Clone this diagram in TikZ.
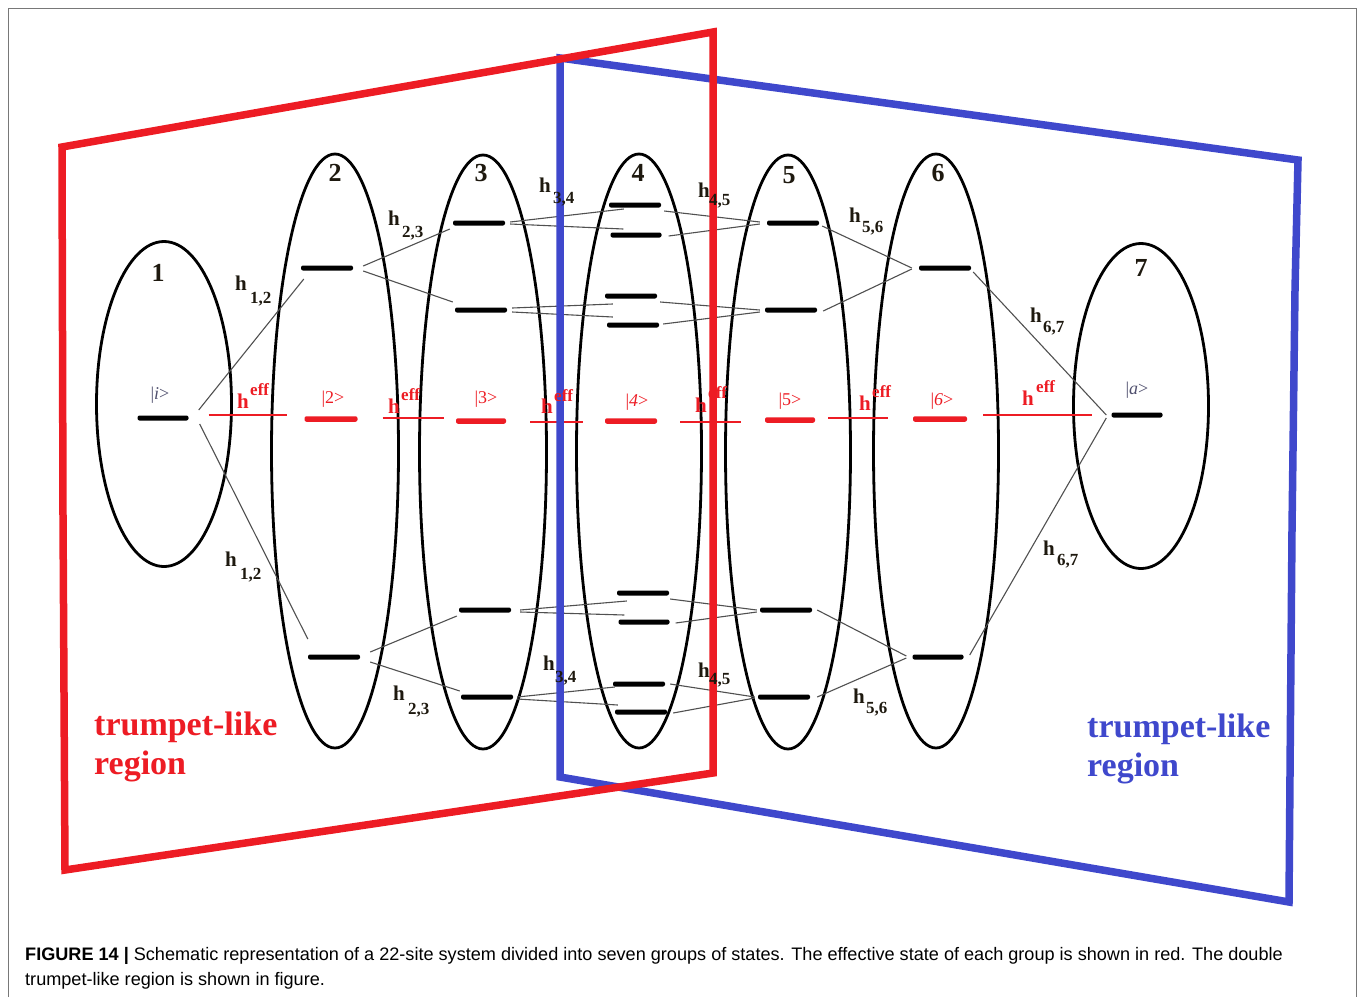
\documentclass[tikz,border=0pt]{standalone}
\usepackage{fontspec}
\setmainfont{Liberation Serif}
\newfontfamily\capfont{Liberation Sans}
\usetikzlibrary{shapes.geometric}
\definecolor{pred}{RGB}{237,28,36}
\definecolor{pblue}{RGB}{63,72,204}
\definecolor{conn}{RGB}{80,80,80}
\definecolor{lab}{RGB}{30,25,15}
\definecolor{ketc}{RGB}{80,80,110}
\definecolor{framec}{RGB}{120,120,120}
\newcommand\hlab[6]{\node[hb,text=lab] (#1) at (#2,#3) {h}; \node[sb,text=lab] (#1s) at (#4,#5) {#6};}
\newcommand\efflab[5]{\node[hb,text=pred] (#1) at (#2,#3) {h}; \node[effb,text=pred] (#1s) at (#4,#5) {eff};}
\begin{document}
\begin{tikzpicture}[x=1pt,y=-1pt,
  grp/.style={draw=black,line width=2.8pt,ellipse,inner sep=0},
  lev/.style={fill=black,minimum height=5pt,inner sep=0,rounded corners=2pt},
  rlev/.style={fill=pred,minimum height=5.5pt,inner sep=0,rounded corners=2pt},
  cn/.style={draw=conn,line width=1.1pt},
  effline/.style={draw=pred,line width=1.2pt},
  num/.style={font=\fontsize{26}{26}\selectfont\bfseries,text=lab,inner sep=0},
  hb/.style={font=\fontsize{21}{21}\selectfont\bfseries,inner sep=0,anchor=base west},
  sb/.style={font=\fontsize{17}{17}\selectfont\bfseries,inner sep=0,anchor=base west},
  effb/.style={font=\fontsize{17}{17}\selectfont\bfseries,inner sep=0,anchor=base west},
  ket/.style={font=\fontsize{18}{18}\selectfont,inner sep=0},
  trump/.style={font=\fontsize{34}{34}\selectfont\bfseries,inner sep=0,anchor=base west},
  frameline/.style={line width=7.5pt},
  captext/.style={font=\capfont\fontsize{18.1}{18}\selectfont,inner sep=0,anchor=base west}]
\useasboundingbox (0,0) rectangle (1358,997);
\draw[framec,line width=0.8pt] (8,997) -- (8,8) -- (1356,8) -- (1356,997);

% group ellipses
\node[grp,minimum width=135pt,minimum height=325pt] (g1) at (164,404) {};
\node[grp,minimum width=127pt,minimum height=594pt] (g2) at (335,451) {};
\node[grp,minimum width=127pt,minimum height=594pt] (g3) at (483,452) {};
\node[grp,minimum width=125pt,minimum height=594pt] (g4) at (639,451) {};
\node[grp,minimum width=125pt,minimum height=594pt] (g5) at (788,452) {};
\node[grp,minimum width=125pt,minimum height=594pt] (g6) at (936,451) {};
\node[grp,minimum width=135pt,minimum height=325pt] (g7) at (1141,406) {};

% group numbers
\node[num] (n1) at (158,273) {1};
\node[num] (n2) at (335,173) {2};
\node[num] (n3) at (481,173) {3};
\node[num] (n4) at (638,173) {4};
\node[num] (n5) at (789,175) {5};
\node[num] (n6) at (938,173) {6};
\node[num] (n7) at (1141,268) {7};

% levels
\node[lev,minimum width=51pt] (i) at (163,418) {};
\node[lev,minimum width=52pt] (L2t) at (327,268) {};
\node[lev,minimum width=52pt] (L2b) at (334,657) {};
\node[lev,minimum width=52pt] (L3a) at (479,223) {};
\node[lev,minimum width=52pt] (L3b) at (481,310) {};
\node[lev,minimum width=52pt] (L3c) at (485,610) {};
\node[lev,minimum width=52pt] (L3d) at (487,697) {};
\node[lev,minimum width=52pt] (L4a) at (635,205) {};
\node[lev,minimum width=51pt] (L4b) at (636,235) {};
\node[lev,minimum width=52pt] (L4c) at (631,296) {};
\node[lev,minimum width=52pt] (L4d) at (633,325) {};
\node[lev,minimum width=52pt] (L4e) at (643,593) {};
\node[lev,minimum width=51pt] (L4f) at (644,622) {};
\node[lev,minimum width=52pt] (L4g) at (639,684) {};
\node[lev,minimum width=52pt] (L4h) at (641,712) {};
\node[lev,minimum width=52pt] (L5a) at (793,223) {};
\node[lev,minimum width=52pt] (L5b) at (791,310) {};
\node[lev,minimum width=52pt] (L5c) at (786,610) {};
\node[lev,minimum width=52pt] (L5d) at (784,697) {};
\node[lev,minimum width=52pt] (L6t) at (945,268) {};
\node[lev,minimum width=51pt] (L6b) at (938,657) {};
\node[lev,minimum width=51pt] (a) at (1137,415) {};

% effective (red) levels
\node[rlev,minimum width=53pt] (R2) at (331,419) {};
\node[rlev,minimum width=50pt] (R3) at (481,421) {};
\node[rlev,minimum width=52pt] (R4) at (631,421) {};
\node[rlev,minimum width=50pt] (R5) at (790,420) {};
\node[rlev,minimum width=54pt] (R6) at (940,419) {};

% couplings
\draw[cn] ([shift={(10,-8)}]i.east) -- ([shift={(3,11)}]L2t.west);
\draw[cn] ([shift={(11,6)}]i.east) -- ([shift={(0,-18)}]L2b.west);
\draw[cn] ([shift={(10,-2)}]L2t.east) -- ([shift={(-3,6)}]L3a.west);
\draw[cn] ([shift={(10,3)}]L2t.east) -- ([shift={(-2,-8)}]L3b.west);
\draw[cn] ([shift={(10,-5)}]L2b.east) -- ([shift={(-2,6)}]L3c.west);
\draw[cn] ([shift={(10,5)}]L2b.east) -- ([shift={(-1,-6)}]L3d.west);
\draw[cn] ([shift={(5,-1)}]L3a.east) -- ([shift={(15,4)}]L4a.west);
\draw[cn] ([shift={(5,1)}]L3a.east) -- ([shift={(13,-6)}]L4b.west);
\draw[cn] ([shift={(5,-2)}]L3b.east) -- ([shift={(8,8)}]L4c.west);
\draw[cn] ([shift={(5,2)}]L3b.east) -- ([shift={(6,-8)}]L4d.west);
\draw[cn] ([shift={(3,6)}]L4a.east) -- ([shift={(-7,-1)}]L5a.west);
\draw[cn] ([shift={(7,1)}]L4b.east) -- ([shift={(-7,1)}]L5a.west);
\draw[cn] ([shift={(3,6)}]L4c.east) -- ([shift={(-5,0)}]L5b.west);
\draw[cn] ([shift={(4,-1)}]L4d.east) -- ([shift={(-5,2)}]L5b.west);
\draw[cn] ([shift={(3,3)}]L5a.east) -- ([shift={(-7,0)}]L6t.west);
\draw[cn] ([shift={(6,1)}]L5b.east) -- ([shift={(-7,1)}]L6t.west);
\draw[cn] ([shift={(2,4)}]L6t.east) -- ([shift={(-5,0)}]a.west);
\draw[cn] ([shift={(6,-2)}]L6b.east) -- ([shift={(-5,3)}]a.west);
\draw[cn] ([shift={(9,0)}]L3c.east) -- ([shift={(10,8)}]L4e.west);
\draw[cn] ([shift={(9,2)}]L3c.east) -- ([shift={(6,-7)}]L4f.west);
\draw[cn] ([shift={(4,0)}]L3d.east) -- ([shift={(2,3)}]L4g.west);
\draw[cn] ([shift={(4,2)}]L3d.east) -- ([shift={(3,-7)}]L4h.west);
\draw[cn] ([shift={(1,6)}]L4e.east) -- ([shift={(-3,0)}]L5c.west);
\draw[cn] ([shift={(6,1)}]L4f.east) -- ([shift={(-3,2)}]L5c.west);
\draw[cn] ([shift={(5,0)}]L4g.east) -- ([shift={(-3,0)}]L5d.west);
\draw[cn] ([shift={(6,1)}]L4h.east) -- ([shift={(-3,1)}]L5d.west);
\draw[cn] ([shift={(5,0)}]L5c.east) -- ([shift={(-6,-1)}]L6b.west);
\draw[cn] ([shift={(7,0)}]L5d.east) -- ([shift={(-6,1)}]L6b.west);

% effective couplings
\draw[effline] ([shift={(20,-3)}]i.east) -- ([shift={(-17,-4)}]R2.west);
\draw[effline] ([shift={(25,-1)}]R2.east) -- ([shift={(-12,-3)}]R3.west);
\draw[effline] ([shift={(24,1)}]R3.east) -- ([shift={(-22,1)}]R4.west);
\draw[effline] ([shift={(23,1)}]R4.east) -- ([shift={(-24,2)}]R5.west);
\draw[effline] ([shift={(13,-2)}]R5.east) -- ([shift={(-25,-1)}]R6.west);
\draw[effline] ([shift={(16,-4)}]R6.east) -- ([shift={(-19,0)}]a.west);

% trumpet-like frames
\draw[pblue,frameline] (560,58) -- (560,777) -- (1289,902) -- (1290,775) -- (1292,530) -- (1295,290) -- (1298,160) -- cycle;
\draw[pred,frameline] (62,147) -- (713,32) -- (713,773) -- (65,870) -- (63,515) -- cycle;

% kets
\node[ket,text=ketc] (ki) at (160,395) {|\textit{i}>};
\node[ket,text=pred] (k2) at (333,399) {|2>};
\node[ket,text=pred] (k3) at (486,399) {|3>};
\node[ket,text=pred] (k4) at (637,402) {|\textit{4}>};
\node[ket,text=pred] (k5) at (790,401) {|5>};
\node[ket,text=pred] (k6) at (942,401) {|\textit{6}>};
\node[ket,text=ketc] (ka) at (1137,390) {|\textit{a}>};

% coupling labels
\hlab{h12a}{235}{290}{250}{303}{1,2}
\hlab{h12b}{225}{566}{240}{579}{1,2}
\hlab{h23a}{388}{225}{402}{237}{2,3}
\hlab{h23b}{393}{700}{408}{714}{2,3}
\hlab{h34a}{539}{192}{553}{203}{3,4}
\hlab{h34b}{543}{670}{555}{682}{3,4}
\hlab{h45a}{698}{197}{709}{205}{4,5}
\hlab{h45b}{698}{677}{709}{684}{4,5}
\hlab{h56a}{849}{222}{862}{232}{5,6}
\hlab{h56b}{853}{703}{866}{713}{5,6}
\hlab{h67a}{1030}{322}{1043}{332}{6,7}
\hlab{h67b}{1043}{555}{1057}{565}{6,7}

\efflab{e1}{237}{408}{250}{395}
\efflab{e2}{388}{413}{401}{400}
\efflab{e3}{541}{413}{554}{401}
\efflab{e4}{695}{412}{708}{398}
\efflab{e5}{859}{410}{872}{397}
\efflab{e6}{1022}{405}{1036}{392}

\node[trump,text=pred] (tl1) at (94,735) {trumpet-like};
\node[trump,text=pred] (tl2) at (94,774) {region};
\node[trump,text=pblue] (tr1) at (1087,737) {trumpet-like};
\node[trump,text=pblue] (tr2) at (1087,776) {region};

% caption
\node[captext] (cap1) at (25,960) {{\bfseries FIGURE 14 |} Schematic representation of a 22-site system divided into seven groups of states. The effective state of each group is shown in red. The double};
\node[captext] (cap2) at (25,985) {trumpet-like region is shown in figure.};
\end{tikzpicture}
\end{document}
